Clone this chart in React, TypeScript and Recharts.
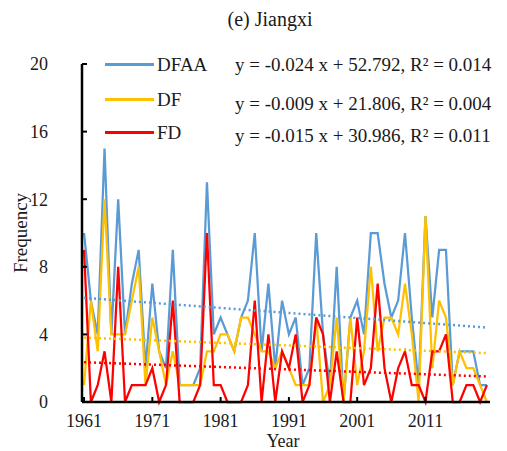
import React from 'react';
import { LineChart, Line, XAxis, YAxis } from 'recharts';

const years = [
  1961, 1962, 1963, 1964, 1965, 1966, 1967, 1968, 1969, 1970,
  1971, 1972, 1973, 1974, 1975, 1976, 1977, 1978, 1979, 1980,
  1981, 1982, 1983, 1984, 1985, 1986, 1987, 1988, 1989, 1990,
  1991, 1992, 1993, 1994, 1995, 1996, 1997, 1998, 1999, 2000,
  2001, 2002, 2003, 2004, 2005, 2006, 2007, 2008, 2009, 2010,
  2011, 2012, 2013, 2014, 2015, 2016, 2017, 2018, 2019, 2020,
];

const dfaa = [
  10, 6, 4, 15, 4, 12, 4, 7, 9, 2,
  7, 3, 2, 9, 1, 1, 1, 2, 13, 4,
  5, 4, 3, 5, 6, 10, 3, 7, 2, 6,
  4, 5, 1, 2, 10, 4, 1, 8, 0, 5,
  6, 4, 10, 10, 7, 5, 6, 10, 5, 1,
  11, 5, 9, 9, 1, 3, 3, 3, 1, 1,
];

const df = [
  1, 6, 3, 12, 4, 4, 4, 6, 8, 1,
  5, 3, 1, 3, 1, 1, 1, 1, 3, 3,
  4, 4, 3, 5, 5, 4, 3, 3, 2, 3,
  2, 1, 1, 1, 5, 0, 1, 5, 0, 5,
  1, 3, 8, 3, 5, 5, 4, 7, 4, 0,
  11, 2, 6, 5, 1, 3, 2, 2, 1, 0,
];

const fd = [
  9, 0, 1, 3, 0, 8, 0, 1, 1, 1,
  2, 0, 1, 6, 0, 0, 0, 1, 10, 1,
  1, 0, 0, 0, 1, 6, 0, 4, 0, 3,
  2, 4, 0, 1, 5, 4, 0, 3, 0, 0,
  5, 1, 2, 7, 2, 0, 2, 3, 1, 1,
  0, 3, 3, 4, 0, 0, 1, 1, 0, 1,
];

const xTicks = [1961, 1971, 1981, 1991, 2001, 2011];
const yTicks = [0, 4, 8, 12, 16, 20];

const seriesNames = ['DFAA', 'DF', 'FD'];
const seriesColors = ['#5B9BD5', '#FFC000', '#FF0000'];
const equations = [
  'y = -0.024 x + 52.792, R\u00B2 = 0.014',
  'y = -0.009 x + 21.806, R\u00B2 = 0.004',
  'y = -0.015 x + 30.986, R\u00B2 = 0.011',
];

function fit(xs: number[], ys: number[]) {
  const n = xs.length;
  const mx = xs.reduce((s, v) => s + v, 0) / n;
  const my = ys.reduce((s, v) => s + v, 0) / n;
  let sxy = 0;
  let sxx = 0;
  for (let i = 0; i < n; i++) {
    sxy += (xs[i] - mx) * (ys[i] - my);
    sxx += (xs[i] - mx) * (xs[i] - mx);
  }
  const b = sxy / sxx;
  const a = my - b * mx;
  return (x: number) => a + b * x;
}

const tA = fit(years, dfaa);
const tB = fit(years, df);
const tC = fit(years, fd);

const data = years.map((y, i) => ({
  year: y,
  DFAA: dfaa[i],
  DF: df[i],
  FD: fd[i],
  tDFAA: tA(y),
  tDF: tB(y),
  tFD: tC(y),
}));

const FONT = '"Liberation Serif", "Times New Roman", serif';

const legendY = [64, 99, 132];
const eqY = [64, 103, 135];

export default function App() {
  return (
    <div style={{ position: 'absolute', left: 0, top: 0, width: 507, height: 451, background: '#fff', fontFamily: FONT, color: '#1a1a1a' }}>
      <LineChart width={507} height={451} data={data} margin={{ top: 64, right: 17, bottom: 19, left: 32 }}>
        <XAxis
          dataKey="year"
          type="number"
          domain={[1960.7, 2020.45]}
          ticks={xTicks}
          interval={0}
          allowDataOverflow
          height={30}
          tickSize={-5}
          tickMargin={17}
          axisLine={{ stroke: '#000', strokeWidth: 2.5 }}
          tickLine={{ stroke: '#000', strokeWidth: 2 }}
          tick={{ fill: '#1a1a1a', fontSize: 18, fontFamily: FONT }}
        />
        <YAxis
          type="number"
          domain={[0, 20]}
          ticks={yTicks}
          interval={0}
          width={50}
          tickSize={-5}
          tickMargin={39}
          axisLine={{ stroke: '#000', strokeWidth: 2.5 }}
          tickLine={{ stroke: '#000', strokeWidth: 2 }}
          tick={{ fill: '#1a1a1a', fontSize: 18, fontFamily: FONT }}
        />
        <Line dataKey="DFAA" stroke={seriesColors[0]} strokeWidth={2.25} dot={false} isAnimationActive={false} />
        <Line dataKey="DF" stroke={seriesColors[1]} strokeWidth={2.25} dot={false} isAnimationActive={false} />
        <Line dataKey="FD" stroke={seriesColors[2]} strokeWidth={2.25} dot={false} isAnimationActive={false} />
        <Line dataKey="tDFAA" stroke={seriesColors[0]} strokeWidth={2.5} strokeDasharray="2 3" dot={false} isAnimationActive={false} />
        <Line dataKey="tDF" stroke={seriesColors[1]} strokeWidth={2.5} strokeDasharray="2 3" dot={false} isAnimationActive={false} />
        <Line dataKey="tFD" stroke={seriesColors[2]} strokeWidth={2.5} strokeDasharray="2 3" dot={false} isAnimationActive={false} />
      </LineChart>

      <div style={{ position: 'absolute', left: 270, top: 19, transform: 'translate(-50%, -50%)', fontSize: 20, lineHeight: 1, whiteSpace: 'nowrap' }}>
        (e) Jiangxi
      </div>
      <div style={{ position: 'absolute', left: 283, top: 441, transform: 'translate(-50%, -50%)', fontSize: 18, lineHeight: 1, whiteSpace: 'nowrap' }}>
        Year
      </div>
      <div style={{ position: 'absolute', left: 20, top: 233, transform: 'translate(-50%, -50%) rotate(-90deg)', fontSize: 19, lineHeight: 1, whiteSpace: 'nowrap' }}>
        Frequency
      </div>

      {seriesNames.map((n, i) => (
        <React.Fragment key={n}>
          <div style={{ position: 'absolute', left: 105, top: legendY[i] - 1, width: 49, height: 2.5, background: seriesColors[i] }} />
          <div style={{ position: 'absolute', left: 157, top: legendY[i], transform: 'translateY(-50%)', fontSize: 19, lineHeight: 1, whiteSpace: 'nowrap' }}>
            {n}
          </div>
          <div style={{ position: 'absolute', left: 235, top: eqY[i], transform: 'translateY(-50%)', fontSize: 19, lineHeight: 1, whiteSpace: 'nowrap' }}>
            {equations[i]}
          </div>
        </React.Fragment>
      ))}
    </div>
  );
}
